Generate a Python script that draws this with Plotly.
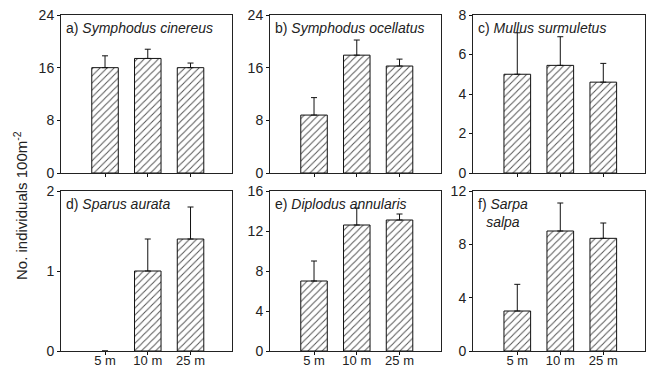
import plotly.graph_objects as go

depths = ["5 m", "10 m", "25 m"]

a_vals = [16.0, 17.4, 16.0]
a_err = [1.8, 1.4, 0.7]
b_vals = [8.8, 17.9, 16.25]
b_err = [2.65, 2.3, 1.05]
c_vals = [5.0, 5.45, 4.6]
c_err = [2.1, 1.45, 0.95]
d_vals = [0.0, 1.0, 1.4]
d_err = [None, 0.4, 0.4]
e_vals = [7.0, 12.6, 13.1]
e_err = [2.0, 1.7, 0.6]
f_vals = [3.0, 9.0, 8.45]
f_err = [2.0, 2.1, 1.15]

panels = [
    ("a) ", "Symphodus cinereus", a_vals, a_err, [0, 8, 16, 24], 24),
    ("b) ", "Symphodus ocellatus", b_vals, b_err, [0, 8, 16, 24], 24),
    ("c) ", "Mullus surmuletus", c_vals, c_err, [0, 2, 4, 6, 8], 8),
    ("d) ", "Sparus aurata", d_vals, d_err, [0, 1, 2], 2),
    ("e) ", "Diplodus annularis", e_vals, e_err, [0, 4, 8, 12, 16], 16),
    ("f) ", "Sarpa salpa", f_vals, f_err, [0, 4, 8, 12], 12),
]

W, H = 646, 368
cols_px = [(61, 232), (270, 441), (473, 645)]
rows_px = [(15, 173), (191, 351)]

fig = go.Figure()
FONT = "Liberation Sans, Arial, sans-serif"
TXT = "#222222"

for i, (lab, sp, vals, err, ticks, ymax) in enumerate(panels):
    r, c = divmod(i, 3)
    n = i + 1
    xa = "x" if n == 1 else f"x{n}"
    ya = "y" if n == 1 else f"y{n}"
    lw = [0 if v == 0 else 1 for v in vals]
    fig.add_trace(go.Bar(
        x=[0, 1, 2], y=vals, xaxis=xa, yaxis=ya, width=0.62,
        marker=dict(color="white", line=dict(color="#111111", width=lw),
                    pattern=dict(shape="/", fgcolor="#555555", bgcolor="white",
                                 size=5, solidity=0.2)),
        error_y=dict(type="data", array=err,
                     arrayminus=[None if e is None else 0 for e in err],
                     symmetric=False,
                     color="#111111", thickness=1, width=3),
        showlegend=False, hoverinfo="skip"))
    x0, x1 = cols_px[c]
    y0, y1 = rows_px[r]
    xkey = "xaxis" if n == 1 else f"xaxis{n}"
    ykey = "yaxis" if n == 1 else f"yaxis{n}"
    fig.layout[xkey] = dict(
        domain=[x0 / W, x1 / W], range=[-1.03, 2.97], anchor=ya,
        tickmode="array", tickvals=[0, 1, 2],
        ticktext=depths,
        showticklabels=(r == 1), automargin=False,
        ticks="outside", ticklen=3, tickcolor="#111111",
        ticklabelstandoff=-6,
        showline=True, linecolor="#222222", linewidth=1, mirror=True,
        showgrid=False, zeroline=False,
        tickfont=dict(family=FONT, size=13, color=TXT))
    fig.layout[ykey] = dict(
        domain=[1 - y1 / H, 1 - y0 / H], range=[0, ymax], anchor=xa,
        tickmode="array", tickvals=ticks, automargin=False,
        ticks="outside", ticklen=3, tickcolor="#111111",
        showline=True, linecolor="#222222", linewidth=1, mirror=True,
        showgrid=False, zeroline=False,
        tickfont=dict(family=FONT, size=14, color=TXT))
    if n == 6:
        text = "f) <i>Sarpa</i><br><i>salpa</i>"
        align = "center"
    else:
        text = f"{lab}<i>{sp}</i>"
        align = "left"
    fig.add_annotation(
        text=text, xref="paper", yref="paper",
        x=(x0 + 3) / W, y=1 - (y0 + 3) / H, xanchor="left", yanchor="top",
        align=align, showarrow=False,
        font=dict(family=FONT, size=14, color=TXT))

fig.add_annotation(
    text="No. individuals 100m<sup>-2</sup>", xref="paper", yref="paper",
    x=20 / W, y=1 - 206 / H, xanchor="center", yanchor="middle",
    textangle=-90, showarrow=False,
    font=dict(family=FONT, size=15, color=TXT))

fig.update_layout(
    template="none",
    width=W, height=H, margin=dict(l=0, r=0, t=0, b=0, autoexpand=False),
    paper_bgcolor="white", plot_bgcolor="white", bargap=0.3)

fig.write_html(
    "out.html",
    config={"displayModeBar": False},
    post_script="document.body.style.margin='0';document.body.style.overflow='hidden';")
